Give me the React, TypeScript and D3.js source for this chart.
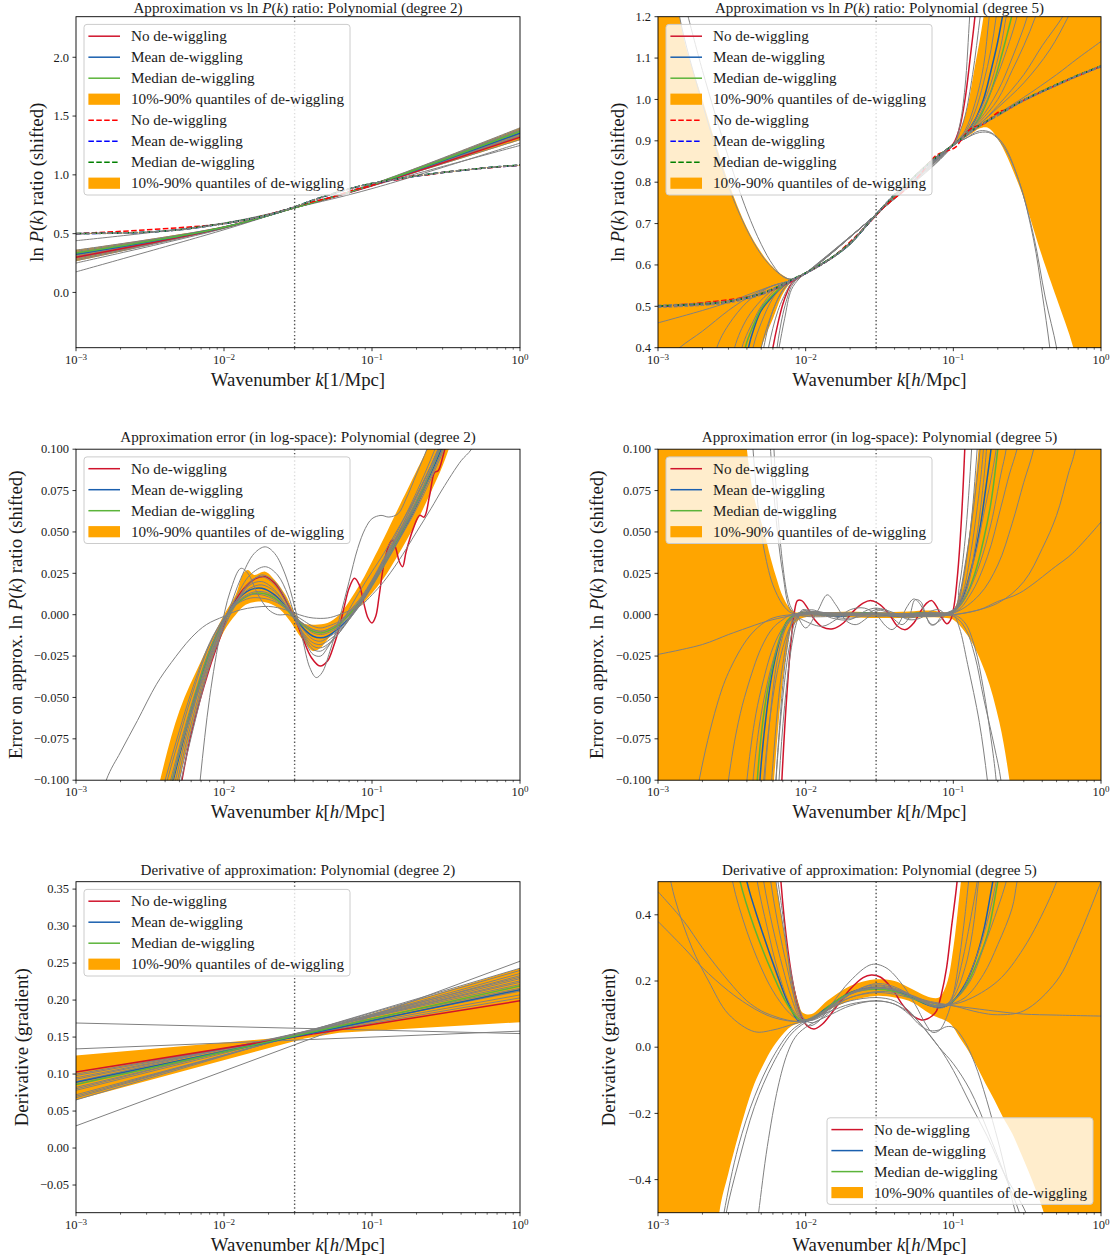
import React from "react";
import * as d3 from "d3";

type Pt = [number, number];

const FONT = "'Liberation Serif', 'Times New Roman', serif";
const RED = "#d0142c";
const BLUE = "#1a5fae";
const GREEN = "#5bb43a";
const ORANGE = "#ffa500";
const GRAY = "#808080";
const RED_D = "#ff0000";
const BLUE_D = "#0000ff";
const GREEN_D = "#008000";

// ---------------- ln P(k) ratio data (panels 1-2) ----------------
const dataK = [0.001, 0.002, 0.003, 0.005, 0.007, 0.008, 0.01, 0.015, 0.02, 0.03, 0.04, 0.05, 0.07, 0.1, 0.15, 0.2, 0.3, 0.5, 0.7, 1.0];
const p1DataMean = [0.5, 0.505, 0.512, 0.533, 0.556, 0.567, 0.585, 0.625, 0.66, 0.727, 0.785, 0.825, 0.88, 0.927, 0.965, 0.99, 1.02, 1.05, 1.068, 1.082];
const p1DataMedian = [0.501, 0.506, 0.513, 0.534, 0.557, 0.568, 0.586, 0.626, 0.661, 0.727, 0.785, 0.826, 0.881, 0.928, 0.966, 0.991, 1.021, 1.051, 1.069, 1.083];
const p1DataHigh = [0.503, 0.508, 0.515, 0.536, 0.559, 0.57, 0.588, 0.628, 0.663, 0.729, 0.787, 0.827, 0.882, 0.929, 0.967, 0.992, 1.022, 1.052, 1.07, 1.084];
const p1DataLow = [0.497, 0.502, 0.509, 0.53, 0.553, 0.564, 0.582, 0.622, 0.657, 0.725, 0.783, 0.823, 0.878, 0.925, 0.963, 0.988, 1.018, 1.048, 1.066, 1.08];
const p1DataRaw: Pt[] = [[0.001, 0.5], [0.01, 0.585], [0.02, 0.663], [0.03, 0.727], [0.038, 0.765], [0.046, 0.79], [0.055, 0.815], [0.065, 0.845], [0.076, 0.875], [0.088, 0.892], [0.1, 0.912], [0.112, 0.935], [0.125, 0.95], [0.14, 0.955], [0.155, 0.962], [0.17, 0.975], [0.19, 0.99], [0.21, 0.995], [0.23, 0.998], [0.26, 1.008], [0.3, 1.02], [0.5, 1.05], [1, 1.082]];

const p2DataMean = [0.5, 0.505, 0.511, 0.53, 0.552, 0.563, 0.58, 0.617, 0.652, 0.722, 0.77, 0.8, 0.848, 0.89, 0.936, 0.962, 0.998, 1.035, 1.058, 1.08];
const p2DataMedian = [0.501, 0.506, 0.512, 0.531, 0.553, 0.564, 0.581, 0.618, 0.653, 0.722, 0.77, 0.801, 0.849, 0.891, 0.937, 0.963, 0.999, 1.036, 1.059, 1.081];
const p2DataHigh = [0.503, 0.508, 0.514, 0.533, 0.554, 0.565, 0.582, 0.619, 0.654, 0.723, 0.771, 0.802, 0.85, 0.892, 0.938, 0.964, 1.0, 1.037, 1.06, 1.082];
const p2DataLow = [0.497, 0.502, 0.508, 0.527, 0.55, 0.561, 0.578, 0.615, 0.65, 0.721, 0.769, 0.799, 0.846, 0.888, 0.934, 0.96, 0.996, 1.033, 1.056, 1.078];
const p2DataRaw: Pt[] = [[0.001, 0.5], [0.005, 0.53], [0.01, 0.58], [0.015, 0.617], [0.02, 0.656], [0.025, 0.69], [0.03, 0.72], [0.037, 0.752], [0.045, 0.775], [0.052, 0.795], [0.06, 0.82], [0.068, 0.845], [0.076, 0.864], [0.085, 0.872], [0.095, 0.878], [0.103, 0.884], [0.112, 0.9], [0.122, 0.918], [0.132, 0.93], [0.142, 0.935], [0.155, 0.938], [0.168, 0.945], [0.18, 0.955], [0.195, 0.966], [0.21, 0.972], [0.23, 0.975], [0.25, 0.982], [0.28, 0.993], [0.3, 0.998], [0.5, 1.035], [1, 1.08]];

// ---------------- Panel 1: degree-2 approximations ----------------
const p1K = [0.001, 0.01, 0.03, 0.1, 1.0];
const p1Red = [0.30, 0.553, 0.72, 0.908, 1.32];
const p1Blue = [0.325, 0.555, 0.72, 0.913, 1.355];
const p1Green = [0.335, 0.555, 0.72, 0.915, 1.37];
const p1BandLow = [0.265, 0.548, 0.714, 0.905, 1.295];
const p1BandHigh = [0.36, 0.562, 0.726, 0.921, 1.40];
const p1Grays = [
  [0.25, 0.544, 0.72, 0.909, 1.30],
  [0.27, 0.548, 0.72, 0.911, 1.33],
  [0.28, 0.55, 0.72, 0.914, 1.35],
  [0.29, 0.551, 0.72, 0.918, 1.38],
  [0.31, 0.552, 0.72, 0.92, 1.40],
  [0.32, 0.554, 0.72, 0.918, 1.39],
  [0.34, 0.556, 0.72, 0.914, 1.37],
  [0.35, 0.557, 0.72, 0.916, 1.38],
  [0.36, 0.558, 0.72, 0.911, 1.34],
  [0.30, 0.551, 0.72, 0.915, 1.36],
  [0.33, 0.555, 0.72, 0.908, 1.33],
  [0.175, 0.533, 0.72, 0.906, 1.25],
  [0.44, 0.591, 0.72, 0.883, 1.27],
];

// ---------------- Panel 2: degree-5 approximations ----------------
const p2Red: Pt[] = [[0.0045, 0.0], [0.005, 0.2], [0.0055, 0.31], [0.006, 0.4], [0.0065, 0.46], [0.007, 0.505], [0.0075, 0.535], [0.008, 0.555], [0.009, 0.57], [0.01, 0.58], [0.015, 0.617], [0.02, 0.652], [0.03, 0.722], [0.04, 0.768], [0.05, 0.8], [0.07, 0.85], [0.09, 0.878], [0.1, 0.893], [0.11, 0.93], [0.12, 1.0], [0.13, 1.1], [0.14, 1.2], [0.15, 1.33]];
const p2Blue: Pt[] = [[0.0035, 0.2], [0.0041, 0.4], [0.0045, 0.45], [0.005, 0.49], [0.006, 0.525], [0.007, 0.548], [0.008, 0.562], [0.01, 0.58], [0.015, 0.617], [0.02, 0.651], [0.03, 0.722], [0.05, 0.8], [0.07, 0.848], [0.1, 0.89], [0.12, 0.915], [0.14, 0.95], [0.16, 1.0], [0.18, 1.07], [0.2, 1.14], [0.215, 1.2], [0.24, 1.3]];
const p2Green: Pt[] = [[0.0033, 0.2], [0.0039, 0.4], [0.0045, 0.46], [0.005, 0.495], [0.006, 0.528], [0.007, 0.55], [0.008, 0.563], [0.01, 0.58], [0.015, 0.617], [0.02, 0.651], [0.03, 0.722], [0.05, 0.8], [0.07, 0.848], [0.1, 0.89], [0.12, 0.912], [0.15, 0.955], [0.18, 1.02], [0.21, 1.1], [0.248, 1.2], [0.28, 1.28]];
const p2BandHigh: Pt[] = [[0.001, 2.0], [0.0014, 1.2], [0.002, 1.0], [0.003, 0.8], [0.004, 0.69], [0.005, 0.63], [0.006, 0.595], [0.007, 0.575], [0.008, 0.566], [0.01, 0.582], [0.015, 0.619], [0.02, 0.653], [0.03, 0.724], [0.05, 0.802], [0.07, 0.85], [0.1, 0.894], [0.12, 0.96], [0.14, 1.08], [0.16, 1.2], [0.2, 1.5], [1, 3]];
const p2BandLow: Pt[] = [[0.001, -1], [0.003, 0.0], [0.004, 0.25], [0.005, 0.4], [0.006, 0.47], [0.007, 0.53], [0.008, 0.559], [0.01, 0.578], [0.015, 0.615], [0.02, 0.65], [0.03, 0.72], [0.05, 0.798], [0.07, 0.846], [0.1, 0.888], [0.13, 0.915], [0.15, 0.93], [0.17, 0.932], [0.2, 0.905], [0.28, 0.79], [0.4, 0.62], [0.5, 0.52], [0.65, 0.4], [0.8, 0.25], [1, 0.05]];
const p2Grays: Pt[][] = [
  [[0.001, 0.35], [0.0014, 0.4], [0.002, 0.44], [0.003, 0.49], [0.004, 0.52], [0.005, 0.538], [0.006, 0.55], [0.008, 0.563], [0.01, 0.58], [0.02, 0.651], [0.03, 0.722], [0.05, 0.8], [0.07, 0.848], [0.1, 0.89], [0.15, 0.935], [0.2, 0.965], [0.3, 1.005], [0.5, 1.06], [0.7, 1.1], [1, 1.14]],
  [[0.001, 0.46], [0.002, 0.49], [0.003, 0.51], [0.004, 0.527], [0.005, 0.54], [0.006, 0.55], [0.008, 0.563], [0.01, 0.58], [0.03, 0.722], [0.1, 0.89], [0.15, 0.94], [0.2, 0.98], [0.3, 1.04], [0.45, 1.12], [0.6, 1.2], [0.7, 1.25]],
  [[0.0016, 1.2], [0.002, 1.07], [0.003, 0.86], [0.004, 0.73], [0.005, 0.65], [0.006, 0.6], [0.007, 0.572], [0.008, 0.566], [0.01, 0.58], [0.03, 0.722], [0.1, 0.89], [0.12, 0.905], [0.15, 0.92], [0.18, 0.918], [0.22, 0.885], [0.28, 0.8], [0.35, 0.66], [0.4, 0.53], [0.45, 0.4], [0.5, 0.25]],
  [[0.0013, 1.3], [0.0014, 1.2], [0.002, 0.99], [0.003, 0.79], [0.004, 0.685], [0.005, 0.625], [0.006, 0.592], [0.007, 0.573], [0.008, 0.565], [0.01, 0.58], [0.03, 0.722], [0.1, 0.89], [0.12, 0.905], [0.15, 0.924], [0.18, 0.92], [0.22, 0.89], [0.28, 0.8], [0.35, 0.67], [0.42, 0.52], [0.5, 0.4], [0.55, 0.3]],
  [[0.002, 0.25], [0.0025, 0.4], [0.003, 0.455], [0.004, 0.51], [0.005, 0.535], [0.006, 0.55], [0.008, 0.563], [0.01, 0.58], [0.03, 0.722], [0.1, 0.89], [0.15, 0.94], [0.2, 0.985], [0.3, 1.06], [0.4, 1.13], [0.55, 1.2], [0.7, 1.27]],
  [[0.0028, 0.25], [0.0033, 0.4], [0.004, 0.47], [0.005, 0.515], [0.006, 0.54], [0.007, 0.555], [0.008, 0.563], [0.01, 0.58], [0.03, 0.722], [0.1, 0.89], [0.15, 0.945], [0.2, 1.0], [0.25, 1.07], [0.3, 1.13], [0.36, 1.2], [0.42, 1.28]],
  [[0.0032, 0.25], [0.0037, 0.4], [0.0045, 0.47], [0.005, 0.5], [0.006, 0.535], [0.007, 0.553], [0.008, 0.563], [0.01, 0.58], [0.03, 0.722], [0.1, 0.89], [0.15, 0.95], [0.2, 1.02], [0.25, 1.1], [0.317, 1.2], [0.36, 1.28]],
  [[0.004, 0.3], [0.0044, 0.4], [0.005, 0.46], [0.006, 0.52], [0.007, 0.548], [0.008, 0.562], [0.01, 0.58], [0.03, 0.722], [0.1, 0.89], [0.13, 0.925], [0.16, 0.98], [0.2, 1.06], [0.24, 1.14], [0.27, 1.2], [0.3, 1.27]],
  [[0.0047, 0.3], [0.0052, 0.4], [0.006, 0.49], [0.007, 0.538], [0.008, 0.56], [0.01, 0.58], [0.03, 0.722], [0.1, 0.89], [0.12, 0.915], [0.15, 0.97], [0.18, 1.04], [0.21, 1.13], [0.228, 1.2], [0.25, 1.27]],
  [[0.0051, 0.3], [0.0056, 0.4], [0.0065, 0.49], [0.0075, 0.54], [0.008, 0.555], [0.01, 0.58], [0.03, 0.722], [0.1, 0.89], [0.12, 0.92], [0.14, 0.97], [0.16, 1.04], [0.18, 1.12], [0.195, 1.2], [0.21, 1.28]],
  [[0.006, 0.3], [0.0064, 0.4], [0.007, 0.48], [0.0075, 0.52], [0.008, 0.548], [0.009, 0.57], [0.01, 0.58], [0.03, 0.722], [0.1, 0.89], [0.11, 0.92], [0.12, 0.96], [0.135, 1.06], [0.152, 1.2], [0.165, 1.3]],
  [[0.0062, 0.35], [0.0066, 0.4], [0.0072, 0.47], [0.008, 0.54], [0.009, 0.566], [0.01, 0.58], [0.03, 0.722], [0.1, 0.891], [0.11, 0.935], [0.12, 1.03], [0.129, 1.2], [0.135, 1.3]],
  [[0.0045, 0.3], [0.005, 0.4], [0.006, 0.49], [0.007, 0.54], [0.008, 0.56], [0.01, 0.58], [0.03, 0.722], [0.1, 0.89], [0.12, 0.925], [0.14, 0.99], [0.16, 1.08], [0.175, 1.2], [0.19, 1.3]],
];

// ---------------- Panel 3: error of degree-2 approximation ----------------
const p3K = [0.003, 0.004, 0.005, 0.006, 0.008, 0.01, 0.012, 0.015, 0.018, 0.022, 0.026, 0.03, 0.035, 0.04, 0.045, 0.05, 0.06, 0.07, 0.085, 0.1, 0.12, 0.15, 0.2, 0.25, 0.3, 0.4];
const p3Blue = [-0.17, -0.12, -0.085, -0.058, -0.022, -0.003, 0.008, 0.015, 0.016, 0.012, 0.005, -0.002, -0.009, -0.013, -0.014, -0.013, -0.008, -0.002, 0.008, 0.018, 0.03, 0.045, 0.066, 0.085, 0.102, 0.13];
const p3Green = [-0.165, -0.117, -0.083, -0.057, -0.022, -0.004, 0.006, 0.012, 0.013, 0.01, 0.004, -0.002, -0.007, -0.01, -0.011, -0.01, -0.006, 0.0, 0.009, 0.018, 0.03, 0.046, 0.068, 0.087, 0.104, 0.133];
const p3GrayInner = [
  [-0.19, -0.135, -0.095, -0.066, -0.027, -0.005, 0.008, 0.018, 0.02, 0.015, 0.006, -0.003, -0.012, -0.017, -0.018, -0.016, -0.01, -0.003, 0.007, 0.017, 0.029, 0.044, 0.064, 0.082, 0.098, 0.126],
  [-0.15, -0.105, -0.074, -0.05, -0.018, -0.002, 0.007, 0.012, 0.012, 0.009, 0.004, -0.001, -0.006, -0.009, -0.01, -0.009, -0.005, 0.001, 0.01, 0.02, 0.033, 0.049, 0.071, 0.09, 0.107, 0.136],
  [-0.2, -0.145, -0.1, -0.07, -0.029, -0.007, 0.007, 0.02, 0.023, 0.018, 0.008, -0.003, -0.013, -0.019, -0.02, -0.018, -0.011, -0.003, 0.008, 0.019, 0.032, 0.048, 0.069, 0.087, 0.104, 0.133],
  [-0.14, -0.1, -0.07, -0.047, -0.017, -0.002, 0.006, 0.01, 0.01, 0.008, 0.004, 0.0, -0.004, -0.007, -0.008, -0.007, -0.004, 0.002, 0.011, 0.021, 0.034, 0.051, 0.074, 0.094, 0.112, 0.142],
  [-0.18, -0.128, -0.09, -0.062, -0.024, -0.004, 0.008, 0.016, 0.018, 0.014, 0.006, -0.002, -0.01, -0.015, -0.016, -0.014, -0.009, -0.002, 0.008, 0.018, 0.03, 0.045, 0.066, 0.084, 0.1, 0.128],
  [-0.16, -0.113, -0.08, -0.055, -0.021, -0.003, 0.007, 0.013, 0.014, 0.011, 0.005, -0.001, -0.007, -0.011, -0.012, -0.011, -0.007, -0.001, 0.009, 0.019, 0.031, 0.047, 0.069, 0.088, 0.105, 0.135],
  [-0.21, -0.15, -0.105, -0.074, -0.031, -0.008, 0.006, 0.019, 0.024, 0.02, 0.01, -0.002, -0.014, -0.021, -0.022, -0.019, -0.011, -0.002, 0.009, 0.02, 0.032, 0.047, 0.067, 0.084, 0.1, 0.127],
];
const p3GrayOutliers: Pt[][] = [
  [[0.001, -0.17], [0.0016, -0.1], [0.002, -0.083], [0.0026, -0.064], [0.0035, -0.042], [0.0044, -0.029], [0.006, -0.014], [0.0076, -0.006], [0.01, -0.001], [0.013, 0.003], [0.02, 0.005], [0.026, 0.003], [0.03, 0.001], [0.035, -0.001], [0.04, -0.002], [0.05, -0.002], [0.06, 0.0], [0.085, 0.006], [0.1, 0.012], [0.12, 0.02], [0.15, 0.032], [0.2, 0.05], [0.25, 0.064], [0.3, 0.076], [0.4, 0.093], [0.47, 0.1], [0.6, 0.12]],
  [[0.004, -0.13], [0.0045, -0.1], [0.006, -0.058], [0.008, -0.025], [0.0105, 0.0], [0.013, 0.022], [0.016, 0.037], [0.019, 0.041], [0.022, 0.037], [0.026, 0.024], [0.03, 0.005], [0.034, -0.015], [0.038, -0.032], [0.042, -0.038], [0.046, -0.035], [0.052, -0.022], [0.06, -0.003], [0.07, 0.02], [0.08, 0.04], [0.09, 0.052], [0.1, 0.058], [0.115, 0.06], [0.13, 0.059], [0.15, 0.061], [0.17, 0.07], [0.2, 0.085], [0.235, 0.1], [0.28, 0.12]],
  [[0.006, -0.16], [0.0069, -0.1], [0.008, -0.05], [0.0095, -0.01], [0.011, 0.014], [0.013, 0.028], [0.0145, 0.025], [0.017, 0.012], [0.02, 0.003], [0.023, 0.0], [0.027, 0.0], [0.03, -0.002], [0.035, -0.006], [0.04, -0.009], [0.045, -0.01], [0.05, -0.009], [0.06, -0.005], [0.07, 0.001], [0.085, 0.01], [0.1, 0.02], [0.12, 0.033], [0.15, 0.049], [0.2, 0.072], [0.25, 0.09], [0.28, 0.1]],
  [[0.0035, -0.17], [0.0045, -0.1], [0.006, -0.06], [0.008, -0.027], [0.01, -0.005], [0.012, 0.01], [0.015, 0.024], [0.019, 0.029], [0.023, 0.024], [0.027, 0.012], [0.03, 0.0], [0.035, -0.015], [0.04, -0.024], [0.045, -0.025], [0.05, -0.02], [0.06, -0.008], [0.07, 0.003], [0.085, 0.016], [0.1, 0.026], [0.12, 0.037], [0.15, 0.052], [0.2, 0.072], [0.25, 0.09], [0.3, 0.105]],
];
const p3Red: Pt[] = [[0.004, -0.16], [0.0052, -0.1], [0.006, -0.072], [0.008, -0.032], [0.01, -0.007], [0.0105, 0.0], [0.012, 0.009], [0.014, 0.017], [0.0165, 0.022], [0.019, 0.023], [0.022, 0.019], [0.026, 0.009], [0.03, -0.002], [0.034, -0.014], [0.039, -0.026], [0.0446, -0.031], [0.05, -0.028], [0.055, -0.019], [0.06, -0.008], [0.065, 0.005], [0.07, 0.016], [0.0762, 0.022], [0.082, 0.018], [0.088, 0.007], [0.094, -0.002], [0.1, -0.005], [0.106, -0.001], [0.112, 0.012], [0.12, 0.03], [0.13, 0.042], [0.137, 0.045], [0.145, 0.04], [0.153, 0.032], [0.161, 0.029], [0.17, 0.038], [0.19, 0.052], [0.21, 0.06], [0.225, 0.059], [0.245, 0.072], [0.265, 0.086], [0.28, 0.087], [0.3, 0.095], [0.32, 0.105], [0.35, 0.12]];
const p3BandHigh: Pt[] = [[0.003, -0.14], [0.0037, -0.1], [0.005, -0.058], [0.007, -0.028], [0.009, -0.008], [0.01, 0.0], [0.012, 0.012], [0.0135, 0.025], [0.0145, 0.027], [0.016, 0.024], [0.019, 0.026], [0.022, 0.021], [0.026, 0.012], [0.03, 0.001], [0.034, -0.005], [0.04, -0.006], [0.05, -0.005], [0.06, 0.0], [0.07, 0.008], [0.085, 0.02], [0.1, 0.032], [0.12, 0.046], [0.15, 0.064], [0.2, 0.087], [0.235, 0.1], [0.3, 0.125], [0.4, 0.16]];
const p3BandLow: Pt[] = [[0.004, -0.15], [0.005, -0.1], [0.006, -0.07], [0.008, -0.032], [0.01, -0.01], [0.012, 0.0], [0.014, 0.006], [0.017, 0.008], [0.02, 0.007], [0.024, 0.003], [0.028, -0.004], [0.032, -0.012], [0.036, -0.018], [0.04, -0.022], [0.045, -0.02], [0.05, -0.015], [0.06, -0.007], [0.07, -0.001], [0.085, 0.006], [0.1, 0.013], [0.12, 0.022], [0.15, 0.036], [0.2, 0.056], [0.25, 0.074], [0.3, 0.09], [0.33, 0.1], [0.4, 0.12]];

// ---------------- Panel 4: error of degree-5 approximation ----------------
const p4Red: Pt[] = [[0.0058, -0.3], [0.0062, -0.2], [0.0069, -0.1], [0.0075, -0.045], [0.008, -0.014], [0.0084, 0.002], [0.0088, 0.0085], [0.0094, 0.0085], [0.0103, 0.004], [0.0115, -0.003], [0.013, -0.0075], [0.0153, -0.0085], [0.018, -0.005], [0.021, 0.002], [0.0245, 0.007], [0.0278, 0.0085], [0.032, 0.006], [0.037, 0.0], [0.042, -0.007], [0.0476, -0.009], [0.054, -0.005], [0.06, 0.002], [0.066, 0.007], [0.0714, 0.0085], [0.077, 0.005], [0.084, -0.002], [0.0905, -0.0055], [0.096, -0.003], [0.101, 0.005], [0.107, 0.025], [0.113, 0.055], [0.1195, 0.1], [0.126, 0.16], [0.135, 0.27]];
const p4Blue: Pt[] = [[0.0042, -0.25], [0.0049, -0.1], [0.0055, -0.055], [0.006, -0.033], [0.0068, -0.013], [0.0075, -0.004], [0.0085, 0.0], [0.01, 0.001], [0.013, 0.0], [0.017, -0.001], [0.025, 0.001], [0.033, 0.0], [0.045, -0.001], [0.06, 0.001], [0.08, 0.0], [0.1, 0.002], [0.115, 0.01], [0.13, 0.025], [0.15, 0.05], [0.165, 0.075], [0.18, 0.1], [0.2, 0.14]];
const p4Green: Pt[] = [[0.004, -0.25], [0.0047, -0.1], [0.0053, -0.055], [0.006, -0.03], [0.0068, -0.012], [0.0075, -0.004], [0.0085, 0.0], [0.01, 0.001], [0.015, 0.0], [0.025, 0.001], [0.04, 0.0], [0.06, 0.001], [0.08, 0.0], [0.1, 0.002], [0.12, 0.01], [0.14, 0.025], [0.16, 0.045], [0.18, 0.068], [0.2, 0.1], [0.22, 0.135]];
const p4BandHigh: Pt[] = [[0.001, 0.6], [0.003, 0.3], [0.0035, 0.19], [0.004, 0.1], [0.0045, 0.07], [0.0052, 0.051], [0.0058, 0.034], [0.0064, 0.021], [0.007, 0.011], [0.0078, 0.004], [0.0085, 0.0015], [0.01, 0.002], [0.013, 0.0015], [0.02, 0.002], [0.03, 0.0015], [0.05, 0.002], [0.07, 0.0025], [0.09, 0.0015], [0.1, 0.003], [0.11, 0.012], [0.12, 0.03], [0.135, 0.065], [0.148, 0.1], [0.16, 0.14], [0.2, 0.3], [1, 2]];
const p4BandLow: Pt[] = [[0.001, -0.6], [0.004, -0.3], [0.0052, -0.18], [0.0061, -0.1], [0.0068, -0.05], [0.0075, -0.02], [0.008, -0.008], [0.009, -0.003], [0.01, -0.0015], [0.02, -0.0015], [0.03, -0.002], [0.05, -0.002], [0.07, -0.0015], [0.09, -0.002], [0.1, -0.003], [0.126, -0.013], [0.165, -0.035], [0.205, -0.065], [0.24, -0.1], [0.3, -0.17], [1, -1]];
const p4Grays: Pt[][] = [
  [[0.001, -0.024], [0.002, -0.018], [0.003, -0.012], [0.004, -0.008], [0.005, -0.005], [0.006, -0.003], [0.008, -0.0005], [0.01, 0.001], [0.02, 0.0], [0.04, 0.0], [0.07, 0.0], [0.1, 0.0], [0.15, 0.003], [0.2, 0.008], [0.28, 0.013], [0.49, 0.029], [0.64, 0.037], [1, 0.056]],
  [[0.0015, -0.16], [0.0019, -0.1], [0.0025, -0.055], [0.003, -0.035], [0.004, -0.015], [0.005, -0.006], [0.006, -0.002], [0.008, 0.0], [0.02, 0.001], [0.05, -0.001], [0.1, 0.0], [0.2, 0.007], [0.3, 0.02], [0.4, 0.04], [0.5, 0.06], [0.6, 0.085], [0.67, 0.1], [0.8, 0.15]],
  [[0.0025, -0.17], [0.003, -0.1], [0.0035, -0.065], [0.004, -0.045], [0.005, -0.02], [0.006, -0.008], [0.007, -0.003], [0.008, 0.0], [0.02, 0.001], [0.05, 0.0], [0.1, 0.001], [0.15, 0.012], [0.2, 0.03], [0.25, 0.055], [0.3, 0.08], [0.35, 0.1], [0.4, 0.13]],
  [[0.0035, -0.16], [0.004, -0.1], [0.0045, -0.065], [0.005, -0.045], [0.006, -0.02], [0.007, -0.008], [0.008, -0.002], [0.009, 0.0], [0.03, 0.0], [0.1, 0.001], [0.13, 0.012], [0.17, 0.035], [0.21, 0.065], [0.24, 0.085], [0.27, 0.1], [0.3, 0.12]],
  [[0.0039, -0.17], [0.0044, -0.1], [0.005, -0.06], [0.006, -0.028], [0.007, -0.011], [0.008, -0.003], [0.009, 0.0], [0.03, -0.001], [0.1, 0.002], [0.12, 0.01], [0.15, 0.03], [0.18, 0.055], [0.21, 0.085], [0.228, 0.1], [0.25, 0.13]],
  [[0.0047, -0.17], [0.0052, -0.1], [0.006, -0.05], [0.007, -0.02], [0.008, -0.006], [0.009, -0.001], [0.01, 0.0], [0.03, 0.001], [0.1, 0.002], [0.12, 0.015], [0.14, 0.035], [0.16, 0.06], [0.18, 0.082], [0.195, 0.1], [0.21, 0.125]],
  [[0.0058, -0.16], [0.0063, -0.1], [0.007, -0.05], [0.0078, -0.018], [0.0085, -0.004], [0.0095, 0.002], [0.012, 0.0], [0.03, 0.001], [0.1, 0.002], [0.11, 0.012], [0.12, 0.03], [0.135, 0.06], [0.152, 0.1], [0.165, 0.14]],
  [[0.0061, -0.16], [0.0066, -0.1], [0.0072, -0.055], [0.008, -0.02], [0.0088, -0.003], [0.0095, 0.003], [0.011, 0.002], [0.03, 0.0], [0.1, 0.003], [0.11, 0.018], [0.12, 0.045], [0.133, 0.1], [0.14, 0.14]],
  [[0.004, 0.18], [0.0044, 0.1], [0.005, 0.05], [0.0055, 0.03], [0.006, 0.018], [0.007, 0.006], [0.008, 0.001], [0.009, 0.0], [0.03, 0.0], [0.1, 0.0], [0.12, -0.005], [0.14, -0.02], [0.16, -0.045], [0.18, -0.075], [0.195, -0.1], [0.22, -0.16]],
  [[0.0058, 0.15], [0.0061, 0.1], [0.0065, 0.06], [0.007, 0.03], [0.0075, 0.012], [0.008, 0.004], [0.0088, 0.0], [0.03, 0.0], [0.1, -0.001], [0.12, -0.008], [0.14, -0.025], [0.16, -0.05], [0.19, -0.08], [0.21, -0.1], [0.23, -0.14]],
  [[0.0055, -0.2], [0.0065, -0.08], [0.0075, -0.02], [0.0085, 0.0], [0.01, -0.008], [0.012, 0.002], [0.014, 0.012], [0.016, 0.006], [0.019, -0.004], [0.022, -0.006], [0.026, -0.002], [0.03, 0.002], [0.035, 0.003], [0.04, -0.003], [0.045, -0.006], [0.05, -0.002], [0.055, 0.009], [0.06, 0.008], [0.065, 0.0], [0.07, -0.006], [0.075, -0.006], [0.085, 0.0], [0.095, 0.002], [0.105, 0.004], [0.115, 0.018], [0.13, 0.05], [0.145, 0.1], [0.16, 0.16]],
  [[0.005, 0.2], [0.006, 0.08], [0.007, 0.025], [0.008, 0.002], [0.01, -0.004], [0.013, -0.007], [0.016, -0.003], [0.02, 0.003], [0.025, 0.004], [0.03, 0.0], [0.035, -0.007], [0.0385, -0.009], [0.043, -0.005], [0.048, 0.004], [0.054, 0.0095], [0.06, 0.006], [0.066, -0.002], [0.072, -0.006], [0.08, -0.004], [0.09, 0.0], [0.1, 0.0], [0.11, -0.008], [0.125, -0.03], [0.15, -0.065], [0.17, -0.1], [0.19, -0.14]],
  [[0.0045, -0.2], [0.0055, -0.08], [0.0065, -0.025], [0.0075, -0.006], [0.0085, 0.0], [0.011, 0.003], [0.015, -0.002], [0.02, -0.003], [0.025, 0.002], [0.03, 0.004], [0.04, 0.001], [0.05, -0.003], [0.06, -0.002], [0.07, 0.002], [0.08, 0.003], [0.09, 0.0], [0.1, 0.001], [0.12, 0.012], [0.14, 0.04], [0.16, 0.08], [0.175, 0.12]],
  [[0.0052, -0.18], [0.006, -0.09], [0.007, -0.03], [0.008, -0.006], [0.009, 0.0], [0.012, 0.002], [0.017, -0.002], [0.024, -0.001], [0.03, 0.003], [0.04, 0.0], [0.05, -0.002], [0.07, 0.001], [0.09, 0.001], [0.1, 0.001], [0.115, 0.012], [0.13, 0.035], [0.15, 0.075], [0.16, 0.1], [0.17, 0.13]],
];

// ---------------- Panel 5: derivative, degree 2 ----------------
const p5K = [0.001, 1.0];
const p5Red = [0.1028, 0.199];
const p5Blue = [0.0888, 0.214];
const p5Green = [0.0857, 0.219];
const p5BandHigh: Pt[] = [[0.001, 0.125], [0.04, 0.153], [0.06, 0.168], [1, 0.243]];
const p5BandLow: Pt[] = [[0.001, 0.065], [0.035, 0.148], [0.06, 0.156], [1, 0.17]];
const p5Grays = [
  [0.03, 0.2525], [0.169, 0.1547], [0.134, 0.158], [0.065, 0.243], [0.068, 0.24], [0.07, 0.236],
  [0.072, 0.233], [0.078, 0.229], [0.082, 0.226], [0.09, 0.221], [0.095, 0.212], [0.098, 0.207],
  [0.086, 0.224], [0.1, 0.203], [0.08, 0.231], [0.093, 0.216],
];

// ---------------- Panel 6: derivative, degree 5 ----------------
const p6Red: Pt[] = [[0.0062, 0.8], [0.0068, 0.5], [0.0076, 0.29], [0.0084, 0.17], [0.0094, 0.09], [0.0104, 0.062], [0.0114, 0.055], [0.013, 0.07], [0.016, 0.12], [0.02, 0.175], [0.0245, 0.21], [0.0278, 0.218], [0.032, 0.212], [0.038, 0.18], [0.045, 0.13], [0.052, 0.098], [0.0608, 0.0825], [0.067, 0.086], [0.072, 0.095], [0.077, 0.11], [0.083, 0.16], [0.09, 0.24], [0.097, 0.36], [0.106, 0.5], [0.115, 0.7]];
const p6Blue: Pt[] = [[0.0037, 0.6], [0.004, 0.5], [0.0049, 0.37], [0.0064, 0.22], [0.0075, 0.14], [0.0089, 0.08], [0.0098, 0.077], [0.011, 0.085], [0.014, 0.12], [0.02, 0.165], [0.03, 0.18], [0.04, 0.172], [0.05, 0.155], [0.06, 0.137], [0.07, 0.125], [0.08, 0.12], [0.09, 0.125], [0.1, 0.14], [0.12, 0.19], [0.14, 0.26], [0.16, 0.35], [0.18, 0.47], [0.19, 0.53]];
const p6Green: Pt[] = [[0.0033, 0.6], [0.0036, 0.5], [0.0045, 0.36], [0.006, 0.22], [0.0075, 0.13], [0.009, 0.085], [0.01, 0.082], [0.012, 0.095], [0.015, 0.13], [0.02, 0.163], [0.03, 0.175], [0.04, 0.168], [0.05, 0.152], [0.06, 0.138], [0.07, 0.128], [0.08, 0.125], [0.09, 0.128], [0.1, 0.14], [0.12, 0.18], [0.14, 0.24], [0.17, 0.34], [0.2, 0.5], [0.22, 0.6]];
const p6BandHigh: Pt[] = [[0.001, 3], [0.003, 1.6], [0.004, 1.1], [0.005, 0.78], [0.006, 0.55], [0.0065, 0.46], [0.007, 0.37], [0.008, 0.22], [0.009, 0.13], [0.0095, 0.105], [0.011, 0.1], [0.014, 0.14], [0.02, 0.185], [0.03, 0.205], [0.04, 0.2], [0.05, 0.18], [0.06, 0.162], [0.07, 0.15], [0.08, 0.15], [0.09, 0.19], [0.1, 0.3], [0.11, 0.46], [0.12, 0.62], [0.2, 2], [1, 6]];
const p6BandLow: Pt[] = [[0.001, -3], [0.002, -1.1], [0.0026, -0.5], [0.003, -0.38], [0.0038, -0.21], [0.0045, -0.11], [0.0052, -0.05], [0.006, 0.0], [0.0072, 0.045], [0.008, 0.063], [0.009, 0.072], [0.011, 0.085], [0.014, 0.11], [0.02, 0.14], [0.03, 0.155], [0.04, 0.15], [0.05, 0.14], [0.06, 0.12], [0.07, 0.1], [0.08, 0.088], [0.086, 0.083], [0.096, 0.07], [0.11, 0.03], [0.126, -0.01], [0.145, -0.06], [0.165, -0.11], [0.19, -0.16], [0.216, -0.21], [0.25, -0.26], [0.28, -0.31], [0.34, -0.4], [0.41, -0.5], [0.5, -0.65], [1, -1.5]];
const p6Grays: Pt[][] = [
  [[0.001, 0.47], [0.0015, 0.38], [0.002, 0.3], [0.003, 0.2], [0.004, 0.14], [0.005, 0.11], [0.006, 0.095], [0.0075, 0.082], [0.009, 0.078], [0.011, 0.085], [0.015, 0.12], [0.02, 0.15], [0.03, 0.165], [0.04, 0.16], [0.05, 0.15], [0.06, 0.14], [0.08, 0.13], [0.1, 0.125], [0.15, 0.115], [0.2, 0.108], [0.3, 0.1], [0.5, 0.097], [1, 0.094]],
  [[0.001, 0.38], [0.0015, 0.3], [0.002, 0.24], [0.003, 0.17], [0.004, 0.13], [0.005, 0.105], [0.006, 0.09], [0.0075, 0.08], [0.009, 0.078], [0.011, 0.086], [0.015, 0.12], [0.02, 0.15], [0.03, 0.168], [0.04, 0.165], [0.05, 0.155], [0.07, 0.138], [0.1, 0.125], [0.15, 0.105], [0.2, 0.098], [0.3, 0.11], [0.5, 0.2], [0.7, 0.33], [1, 0.5]],
  [[0.0011, 0.6], [0.0013, 0.45], [0.0017, 0.3], [0.0022, 0.2], [0.003, 0.1], [0.0045, 0.047], [0.006, 0.052], [0.008, 0.068], [0.0095, 0.078], [0.012, 0.095], [0.02, 0.16], [0.03, 0.18], [0.05, 0.16], [0.07, 0.135], [0.09, 0.128], [0.12, 0.14], [0.2, 0.2], [0.3, 0.3], [0.45, 0.45], [0.55, 0.55]],
  [[0.0029, 0.65], [0.0032, 0.5], [0.004, 0.35], [0.005, 0.24], [0.006, 0.17], [0.0075, 0.11], [0.009, 0.082], [0.011, 0.085], [0.015, 0.125], [0.02, 0.16], [0.03, 0.178], [0.04, 0.172], [0.05, 0.158], [0.07, 0.135], [0.09, 0.128], [0.12, 0.15], [0.16, 0.22], [0.2, 0.31], [0.25, 0.42], [0.27, 0.5], [0.3, 0.6]],
  [[0.0043, 0.62], [0.0047, 0.5], [0.0055, 0.36], [0.0065, 0.23], [0.0078, 0.13], [0.009, 0.09], [0.01, 0.082], [0.012, 0.09], [0.016, 0.135], [0.022, 0.168], [0.03, 0.18], [0.04, 0.174], [0.05, 0.158], [0.065, 0.135], [0.08, 0.125], [0.1, 0.14], [0.13, 0.2], [0.16, 0.3], [0.2, 0.42], [0.228, 0.5], [0.25, 0.58]],
  [[0.0048, 0.62], [0.0052, 0.5], [0.006, 0.36], [0.007, 0.24], [0.008, 0.15], [0.0092, 0.088], [0.0105, 0.08], [0.013, 0.1], [0.018, 0.15], [0.025, 0.178], [0.032, 0.185], [0.045, 0.168], [0.06, 0.14], [0.075, 0.123], [0.09, 0.127], [0.11, 0.16], [0.14, 0.26], [0.17, 0.38], [0.195, 0.5], [0.21, 0.58]],
  [[0.0054, 0.62], [0.0058, 0.5], [0.0065, 0.37], [0.0075, 0.24], [0.0085, 0.14], [0.0095, 0.09], [0.0105, 0.08], [0.013, 0.095], [0.018, 0.15], [0.025, 0.182], [0.032, 0.188], [0.045, 0.17], [0.06, 0.142], [0.075, 0.125], [0.088, 0.128], [0.1, 0.15], [0.12, 0.24], [0.135, 0.35], [0.148, 0.5], [0.16, 0.62]],
  [[0.0059, 0.62], [0.0063, 0.5], [0.007, 0.37], [0.008, 0.22], [0.009, 0.12], [0.01, 0.08], [0.0115, 0.075], [0.014, 0.1], [0.02, 0.16], [0.028, 0.19], [0.035, 0.19], [0.045, 0.172], [0.06, 0.14], [0.075, 0.12], [0.088, 0.122], [0.1, 0.16], [0.115, 0.26], [0.13, 0.38], [0.145, 0.5], [0.155, 0.6]],
  [[0.0026, -0.6], [0.0028, -0.5], [0.0035, -0.3], [0.0045, -0.15], [0.006, -0.03], [0.008, 0.05], [0.01, 0.08], [0.015, 0.12], [0.02, 0.14], [0.03, 0.15], [0.04, 0.14], [0.05, 0.11], [0.06, 0.07], [0.08, 0.0], [0.1, -0.05], [0.13, -0.13], [0.17, -0.25], [0.22, -0.38], [0.28, -0.5], [0.32, -0.6]],
  [[0.0045, -0.6], [0.0048, -0.5], [0.0055, -0.3], [0.0065, -0.12], [0.0075, -0.02], [0.0085, 0.03], [0.01, 0.06], [0.015, 0.1], [0.02, 0.125], [0.03, 0.14], [0.04, 0.13], [0.05, 0.1], [0.06, 0.065], [0.07, 0.05], [0.08, 0.052], [0.09, 0.062], [0.1, 0.06], [0.115, 0.03], [0.14, -0.05], [0.2, -0.28], [0.25, -0.46], [0.27, -0.52], [0.3, -0.65]],
  [[0.0027, -0.6], [0.0029, -0.5], [0.0035, -0.35], [0.0045, -0.18], [0.006, -0.05], [0.008, 0.04], [0.01, 0.075], [0.015, 0.11], [0.02, 0.13], [0.03, 0.14], [0.04, 0.13], [0.05, 0.105], [0.06, 0.07], [0.08, 0.0], [0.1, -0.07], [0.13, -0.17], [0.17, -0.27], [0.22, -0.38], [0.31, -0.5], [0.35, -0.58]],
  [[0.006, 0.6], [0.007, 0.4], [0.008, 0.2], [0.009, 0.1], [0.0105, 0.065], [0.012, 0.075], [0.015, 0.13], [0.02, 0.2], [0.028, 0.25], [0.035, 0.24], [0.045, 0.19], [0.055, 0.13], [0.065, 0.07], [0.072, 0.045], [0.08, 0.05], [0.09, 0.09], [0.1, 0.16], [0.11, 0.27], [0.12, 0.4], [0.13, 0.55]],
];

// ---------------- layout ----------------
const COL_X = [76, 658];
const AX_W = [444, 443];
const ROW_Y = [16.7, 449.2, 881.7];
const AX_H = 331;
const VLINE_K = 0.03;

const zip = (ks: number[], vs: number[]): Pt[] => vs.map((v, i) => [ks[i], v] as Pt);

const I = ({ children }: { children: React.ReactNode }) => <tspan fontStyle="italic">{children}</tspan>;

type LegendEntry = { kind: "line" | "dash" | "patch"; color: string; label: string };
const LEG_MAIN: LegendEntry[] = [
  { kind: "line", color: RED, label: "No de-wiggling" },
  { kind: "line", color: BLUE, label: "Mean de-wiggling" },
  { kind: "line", color: GREEN, label: "Median de-wiggling" },
  { kind: "patch", color: ORANGE, label: "10%-90% quantiles of de-wiggling" },
];
const LEG_DATA: LegendEntry[] = [
  { kind: "dash", color: RED_D, label: "No de-wiggling" },
  { kind: "dash", color: BLUE_D, label: "Mean de-wiggling" },
  { kind: "dash", color: GREEN_D, label: "Median de-wiggling" },
  { kind: "patch", color: ORANGE, label: "10%-90% quantiles of de-wiggling" },
];

interface LineSpec { pts: Pt[]; color: string; w: number; dash?: string; linear?: boolean }
interface BandSpec { hi: Pt[]; lo: Pt[]; linear?: boolean }
interface PanelSpec {
  id: string; col: number; row: number;
  title: React.ReactNode;
  yDomain: [number, number]; yTicks: number[]; yFmt: string;
  yLabel: React.ReactNode; yLabelOff: number;
  xUnitH: boolean;
  bands: BandSpec[];
  lines: LineSpec[];
  legend: LegendEntry[]; legendPos: "tl" | "br";
}

const grayFit = (pts: Pt[], linear = false): LineSpec => ({ pts, color: GRAY, w: 1, linear });
const dataDash = "3.7 1.6";
const dataLines = (ks: number[], mean: number[], med: number[], hi: number[], lo: number[], raw: Pt[]): LineSpec[] => [
  { pts: raw, color: RED_D, w: 1.5, dash: "5.5 2.4" },
  { pts: zip(ks, mean), color: BLUE_D, w: 1.5, dash: "5.5 2.4" },
  { pts: zip(ks, med), color: GREEN_D, w: 1.5, dash: "5.5 2.4" },
  { pts: zip(ks, hi), color: GRAY, w: 1, dash: dataDash },
  { pts: zip(ks, lo), color: GRAY, w: 1, dash: dataDash },
  { pts: zip(ks, mean), color: GRAY, w: 1.2, dash: dataDash },
];

const titleLnP = (deg: number) => <>Approximation vs ln <I>P</I>(<I>k</I>) ratio: Polynomial (degree {deg})</>;
const titleErr = (deg: number) => <>Approximation error (in log-space): Polynomial (degree {deg})</>;
const titleDer = (deg: number) => <>Derivative of approximation: Polynomial (degree {deg})</>;
const yLnP = <>ln <I>P</I>(<I>k</I>) ratio (shifted)</>;
const yErr = <>Error on approx. ln <I>P</I>(<I>k</I>) ratio (shifted)</>;
const yDer = <>Derivative (gradient)</>;

const PANELS: PanelSpec[] = [
  {
    id: "p1", col: 0, row: 0, title: titleLnP(2),
    yDomain: [-0.47, 2.345], yTicks: [0, 0.5, 1, 1.5, 2], yFmt: ".1f", yLabel: yLnP, yLabelOff: 39, xUnitH: false,
    bands: [{ hi: zip(p1K, p1BandHigh), lo: zip(p1K, p1BandLow) }, { hi: zip(dataK, p1DataHigh), lo: zip(dataK, p1DataLow) }],
    lines: [
      ...p1Grays.map((g) => grayFit(zip(p1K, g))),
      { pts: zip(p1K, p1Red), color: RED, w: 1.5 },
      { pts: zip(p1K, p1Blue), color: BLUE, w: 1.5 },
      { pts: zip(p1K, p1Green), color: GREEN, w: 1.5 },
      ...dataLines(dataK, p1DataMean, p1DataMedian, p1DataHigh, p1DataLow, p1DataRaw),
    ],
    legend: [...LEG_MAIN, ...LEG_DATA], legendPos: "tl",
  },
  {
    id: "p2", col: 1, row: 0, title: titleLnP(5),
    yDomain: [0.4, 1.2], yTicks: [0.4, 0.5, 0.6, 0.7, 0.8, 0.9, 1.0, 1.1, 1.2], yFmt: ".1f", yLabel: yLnP, yLabelOff: 40, xUnitH: true,
    bands: [{ hi: p2BandHigh, lo: p2BandLow }, { hi: zip(dataK, p2DataHigh), lo: zip(dataK, p2DataLow) }],
    lines: [
      { pts: p2Red, color: RED, w: 1.5 },
      { pts: p2Blue, color: BLUE, w: 1.5 },
      { pts: p2Green, color: GREEN, w: 1.5 },
      ...p2Grays.map((g) => grayFit(g)),
      ...dataLines(dataK, p2DataMean, p2DataMedian, p2DataHigh, p2DataLow, p2DataRaw),
    ],
    legend: [...LEG_MAIN, ...LEG_DATA], legendPos: "tl",
  },
  {
    id: "p3", col: 0, row: 1, title: titleErr(2),
    yDomain: [-0.1, 0.1], yTicks: [-0.1, -0.075, -0.05, -0.025, 0, 0.025, 0.05, 0.075, 0.1], yFmt: ".3f", yLabel: yErr, yLabelOff: 60.5, xUnitH: true,
    bands: [{ hi: p3BandHigh, lo: p3BandLow }],
    lines: [
      { pts: p3Red, color: RED, w: 1.5 },
      { pts: zip(p3K, p3Blue), color: BLUE, w: 1.5 },
      { pts: zip(p3K, p3Green), color: GREEN, w: 1.5 },
      ...p3GrayInner.map((g) => grayFit(zip(p3K, g))),
      ...p3GrayOutliers.map((g) => grayFit(g)),
    ],
    legend: LEG_MAIN, legendPos: "tl",
  },
  {
    id: "p4", col: 1, row: 1, title: titleErr(5),
    yDomain: [-0.1, 0.1], yTicks: [-0.1, -0.075, -0.05, -0.025, 0, 0.025, 0.05, 0.075, 0.1], yFmt: ".3f", yLabel: yErr, yLabelOff: 61, xUnitH: true,
    bands: [{ hi: p4BandHigh, lo: p4BandLow }],
    lines: [
      { pts: p4Red, color: RED, w: 1.5 },
      { pts: p4Blue, color: BLUE, w: 1.5 },
      { pts: p4Green, color: GREEN, w: 1.5 },
      ...p4Grays.map((g) => grayFit(g)),
    ],
    legend: LEG_MAIN, legendPos: "tl",
  },
  {
    id: "p5", col: 0, row: 2, title: titleDer(2),
    yDomain: [-0.0874, 0.36], yTicks: [-0.05, 0, 0.05, 0.1, 0.15, 0.2, 0.25, 0.3, 0.35], yFmt: ".2f", yLabel: yDer, yLabelOff: 54.6, xUnitH: true,
    bands: [{ hi: p5BandHigh, lo: p5BandLow, linear: true }],
    lines: [
      ...p5Grays.map((g) => grayFit(zip(p5K, g), true)),
      { pts: zip(p5K, p5Red), color: RED, w: 1.5, linear: true },
      { pts: zip(p5K, p5Blue), color: BLUE, w: 1.5, linear: true },
      { pts: zip(p5K, p5Green), color: GREEN, w: 1.5, linear: true },
    ],
    legend: LEG_MAIN, legendPos: "tl",
  },
  {
    id: "p6", col: 1, row: 2, title: titleDer(5),
    yDomain: [-0.5, 0.5], yTicks: [-0.4, -0.2, 0, 0.2, 0.4], yFmt: ".1f", yLabel: yDer, yLabelOff: 49, xUnitH: true,
    bands: [{ hi: p6BandHigh, lo: p6BandLow }],
    lines: [
      { pts: p6Red, color: RED, w: 1.5 },
      { pts: p6Blue, color: BLUE, w: 1.5 },
      { pts: p6Green, color: GREEN, w: 1.5 },
      ...p6Grays.map((g) => grayFit(g)),
    ],
    legend: LEG_MAIN, legendPos: "br",
  },
];

const TICK_FS = 12.5;
const LABEL_FS = 18.8;
const TITLE_FS = 15.1;
const LEG_FS = 15.2;
const LEG_W = 266;
const LEG_ROW = 21;
const LEG_PAD = 11.4;
const TXT = "#1a1a1a";

function Legend({ x, y, entries }: { x: number; y: number; entries: LegendEntry[] }) {
  const h = LEG_PAD * 2 + (entries.length - 1) * LEG_ROW + 0.8;
  return (
    <g>
      <rect x={x} y={y} width={LEG_W} height={h} rx={3} fill="#fff" fillOpacity={0.8} stroke="#cccccc" strokeWidth={1} />
      {entries.map((e, i) => {
        const cy = y + LEG_PAD + 0.4 + i * LEG_ROW;
        return (
          <g key={i}>
            {e.kind === "patch" ? (
              <rect x={x + 4.4} y={cy - 5.6} width={31.6} height={11.2} fill={e.color} />
            ) : (
              <line x1={x + 4.4} x2={x + 36} y1={cy} y2={cy} stroke={e.color} strokeWidth={1.5}
                strokeDasharray={e.kind === "dash" ? "5.5 2.4" : undefined} />
            )}
            <text x={x + 47} y={cy} dy="0.34em" fontSize={LEG_FS} fill={TXT}>{e.label}</text>
          </g>
        );
      })}
    </g>
  );
}

function Panel({ s }: { s: PanelSpec }) {
  const x0 = COL_X[s.col];
  const w = AX_W[s.col];
  const y0 = ROW_Y[s.row];
  const h = AX_H;
  const xs = d3.scaleLog().domain([1e-3, 1]).range([x0, x0 + w]);
  const ys = d3.scaleLinear().domain(s.yDomain).range([y0 + h, y0]);
  const mk = (linear?: boolean) =>
    d3.line<Pt>().x((d) => xs(d[0])).y((d) => ys(d[1])).curve(linear ? d3.curveLinear : d3.curveCatmullRom.alpha(0.5));
  const clipId = `clip-${s.id}`;
  const minor: number[] = [];
  for (const dec of [-3, -2, -1]) for (let m = 2; m <= 9; m++) minor.push(m * Math.pow(10, dec));
  const fmt = d3.format(s.yFmt);
  const legEntries = s.legend;
  const legH = LEG_PAD * 2 + (legEntries.length - 1) * LEG_ROW + 0.8;
  const legX = s.legendPos === "tl" ? x0 + 8 : x0 + w - 8 - LEG_W;
  const legY = s.legendPos === "tl" ? y0 + 7.7 : y0 + h - 8.3 - legH;
  const titleY = s.row === 0 ? y0 - 4.2 : y0 - 7;

  return (
    <g>
      <defs>
        <clipPath id={clipId}>
          <rect x={x0} y={y0} width={w} height={h} />
        </clipPath>
      </defs>
      <g clipPath={`url(#${clipId})`}>
        {s.bands.map((b, i) => {
          const g = mk(b.linear);
          const up = g(b.hi) || "";
          const lo = g([...b.lo].reverse()) || "";
          return <path key={i} d={up + "L" + lo.slice(1) + "Z"} fill={ORANGE} stroke="none" />;
        })}
        {s.lines.map((l, i) => (
          <path key={i} d={mk(l.linear)(l.pts) || ""} fill="none" stroke={l.color} strokeWidth={l.w}
            strokeDasharray={l.dash} strokeLinejoin="round" />
        ))}
        <line x1={xs(VLINE_K)} x2={xs(VLINE_K)} y1={y0} y2={y0 + h} stroke="#555" strokeWidth={1.4} strokeDasharray="1.4 2.3" />
      </g>
      <Legend x={legX} y={legY} entries={legEntries} />
      <rect x={x0} y={y0} width={w} height={h} fill="none" stroke="#000" strokeWidth={0.9} />
      {[1e-3, 1e-2, 1e-1, 1].map((k, i) => (
        <g key={k}>
          <line x1={xs(k)} x2={xs(k)} y1={y0 + h} y2={y0 + h + 3.5} stroke="#000" strokeWidth={0.8} />
          <text x={xs(k)} y={y0 + h + 16} textAnchor="middle" fontSize={TICK_FS} fill={TXT}>
            10<tspan dy="-0.42em" fontSize={TICK_FS * 0.72}>{["−3", "−2", "−1", "0"][i]}</tspan>
          </text>
        </g>
      ))}
      {minor.map((k) => (
        <line key={k} x1={xs(k)} x2={xs(k)} y1={y0 + h} y2={y0 + h + 2} stroke="#000" strokeWidth={0.6} />
      ))}
      {s.yTicks.map((v) => (
        <g key={v}>
          <line x1={x0 - 3.5} x2={x0} y1={ys(v)} y2={ys(v)} stroke="#000" strokeWidth={0.8} />
          <text x={x0 - 7} y={ys(v)} dy="0.34em" textAnchor="end" fontSize={TICK_FS} fill={TXT}>{fmt(v)}</text>
        </g>
      ))}
      <text x={x0 + w / 2} y={titleY} textAnchor="middle" fontSize={TITLE_FS} fill={TXT}>{s.title}</text>
      <text x={x0 + w / 2} y={y0 + h + 38} textAnchor="middle" fontSize={LABEL_FS} fill={TXT}>
        Wavenumber <I>k</I>[{s.xUnitH ? <I>h</I> : "1"}/Mpc]
      </text>
      <text transform={`translate(${x0 - s.yLabelOff},${y0 + h / 2}) rotate(-90)`} textAnchor="middle" dy="0.34em"
        fontSize={LABEL_FS} fill={TXT}>{s.yLabel}</text>
    </g>
  );
}

export default function App() {
  return (
    <svg width={1114} height={1260} style={{ position: "absolute", left: 0, top: 0, background: "#fff" }} fontFamily={FONT}>
      <rect x={0} y={0} width={1114} height={1260} fill="#fff" />
      {PANELS.map((p) => (
        <Panel key={p.id} s={p} />
      ))}
    </svg>
  );
}
